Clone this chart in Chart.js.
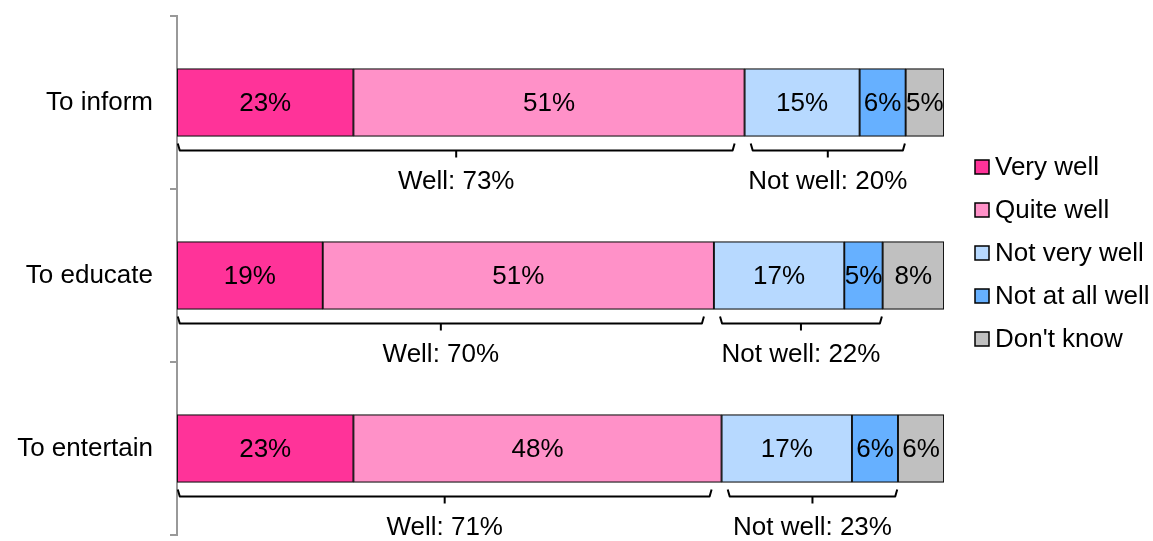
<!DOCTYPE html>
<html>
<head>
<meta charset="utf-8">
<script src="https://cdn.jsdelivr.net/npm/chart.js@4"></script>
<style>
  html, body { margin: 0; padding: 0; background: #fff; }
  #wrap { width: 1153px; height: 541px; position: relative; }
</style>
</head>
<body>
<div id="wrap"><canvas id="chart"></canvas></div>
<script>
// 데이터
const categories = ["To inform", "To educate", "To entertain"];
const seriesNames = ["Very well", "Quite well", "Not very well", "Not at all well", "Don't know"];
const veryWell = [23, 19, 23];
const quiteWell = [51, 51, 48];
const notVeryWell = [15, 17, 17];
const notAtAllWell = [6, 5, 6];
const dontKnow = [5, 8, 6];
const wellTotals = [73, 70, 71];
const notWellTotals = [20, 22, 23];

const colors = ["#FF3399", "#FF91C8", "#B7D9FF", "#66B0FF", "#C0C0C0"];
const FONT = "'Liberation Sans', Arial, sans-serif";

const seriesData = [veryWell, quiteWell, notVeryWell, notAtAllWell, dontKnow];

// 막대 안쪽 퍼센트 라벨
const segLabels = {
  id: "segLabels",
  afterDatasetsDraw(chart) {
    const ctx = chart.ctx;
    ctx.save();
    ctx.font = "26px " + FONT;
    ctx.fillStyle = "#000";
    ctx.textAlign = "center";
    ctx.textBaseline = "middle";
    chart.data.datasets.forEach((ds, i) => {
      chart.getDatasetMeta(i).data.forEach((bar, j) => {
        const cx = (bar.x + bar.base) / 2;
        ctx.fillText(ds.data[j] + "%", cx, bar.y + 1);
      });
    });
    ctx.restore();
  }
};

// 아래쪽 괄호 + 합계 라벨
const brackets = {
  id: "brackets",
  afterDraw(chart) {
    const ctx = chart.ctx;
    const x = chart.scales.x;
    const meta = chart.getDatasetMeta(0);
    ctx.save();
    ctx.strokeStyle = "#000";
    ctx.lineWidth = 2;
    ctx.lineJoin = "round";
    ctx.font = "26px " + FONT;
    ctx.fillStyle = "#000";
    ctx.textAlign = "center";
    ctx.textBaseline = "middle";
    const draw = (a, b, y, text) => {
      const x1 = x.getPixelForValue(a), x2 = x.getPixelForValue(b);
      const xm = (x1 + x2) / 2;
      ctx.beginPath();
      ctx.moveTo(x1, y - 7);
      ctx.lineTo(x1 + 2, y);
      ctx.lineTo(x2 - 2, y);
      ctx.lineTo(x2, y - 7);
      ctx.stroke();
      ctx.beginPath();
      ctx.moveTo(xm, y);
      ctx.lineTo(xm, y + 7);
      ctx.stroke();
      ctx.fillText(text, xm, y + 31);
    };
    categories.forEach((c, j) => {
      const bar = meta.data[j];
      const bottom = bar.y + bar.height / 2;
      const wellEnd = veryWell[j] + quiteWell[j];
      const notEnd = wellEnd + notVeryWell[j] + notAtAllWell[j];
      draw(0.1, wellEnd - 1.3, bottom + 14, "Well: " + wellTotals[j] + "%");
      draw(wellEnd + 0.8, notEnd - 0.1, bottom + 14, "Not well: " + notWellTotals[j] + "%");
    });
    ctx.restore();
  }
};

// 오른쪽 범례
const sideLegend = {
  id: "sideLegend",
  afterDraw(chart) {
    const ctx = chart.ctx;
    ctx.save();
    ctx.font = "26px " + FONT;
    ctx.textAlign = "left";
    ctx.textBaseline = "middle";
    seriesNames.forEach((name, i) => {
      const y = 167 + i * 43;
      ctx.fillStyle = colors[i];
      ctx.fillRect(975, y - 7, 14, 14);
      ctx.strokeStyle = "#000";
      ctx.lineWidth = 1.5;
      ctx.strokeRect(975, y - 7, 14, 14);
      ctx.fillStyle = "#000";
      ctx.fillText(name, 995, y + 1);
    });
    ctx.restore();
  }
};

new Chart(document.getElementById("chart"), {
  type: "bar",
  data: {
    labels: categories,
    datasets: seriesNames.map((name, i) => ({
      label: name,
      data: seriesData[i],
      backgroundColor: colors[i],
      borderColor: "#111",
      borderWidth: 1.3,
      borderSkipped: false,
      barThickness: 68
    }))
  },
  options: {
    indexAxis: "y",
    responsive: true,
    maintainAspectRatio: false,
    animation: false,
    layout: { padding: { top: 16, right: 209, bottom: 6, left: 0 } },
    plugins: { legend: { display: false }, tooltip: { enabled: false } },
    scales: {
      x: { stacked: true, min: 0, max: 100, display: false },
      y: {
        stacked: true,
        afterFit: s => { s.width = 177; s.paddingTop = 0; s.paddingBottom = 0; },
        border: { display: true, color: "#999", width: 2 },
        grid: { offset: true, drawOnChartArea: false, tickLength: 7, color: "#999", lineWidth: 2 },
        ticks: { color: "#000", font: { family: FONT, size: 26 }, padding: 17 }
      }
    }
  },
  plugins: [segLabels, brackets, sideLegend]
});
</script>
</body>
</html>
